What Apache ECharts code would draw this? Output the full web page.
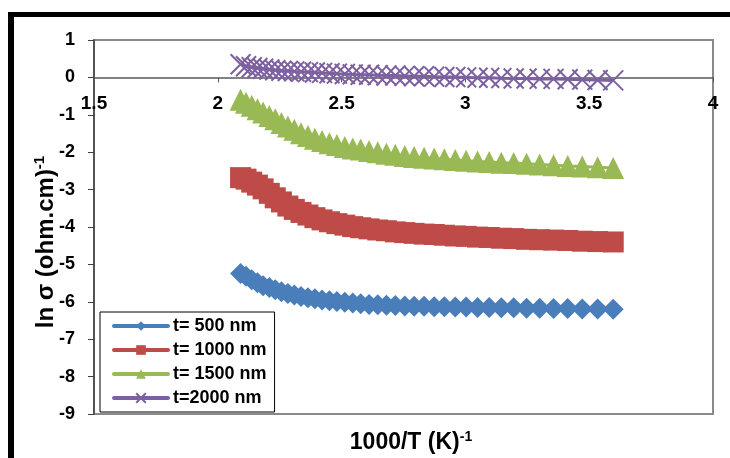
<!DOCTYPE html>
<html>
<head>
<meta charset="utf-8">
<script src="https://cdn.jsdelivr.net/npm/echarts@6/dist/echarts.min.js"></script>
<style>
  html, body { margin: 0; padding: 0; background: #fff; }
  #chart { width: 730px; height: 458px; }
</style>
</head>
<body>
<div id="chart"></div>
<script>
// 1000/T values (one marker each)
const invT = [2.092, 2.114, 2.137, 2.160, 2.183, 2.208, 2.232, 2.257, 2.283, 2.309,
              2.336, 2.364, 2.392, 2.421, 2.451, 2.481, 2.513, 2.545, 2.577, 2.611,
              2.646, 2.681, 2.717, 2.755, 2.793, 2.833, 2.874, 2.915, 2.959, 3.003,
              3.049, 3.096, 3.145, 3.195, 3.247, 3.300, 3.356, 3.413, 3.472, 3.534, 3.597];

// ln sigma for each film thickness
const t500 = [-5.24, -5.32, -5.41, -5.49, -5.57, -5.62, -5.68, -5.73, -5.78, -5.82,
              -5.86, -5.89, -5.92, -5.95, -5.97, -5.99, -6.01, -6.03, -6.05, -6.07,
              -6.08, -6.09, -6.10, -6.11, -6.12, -6.12, -6.13, -6.13, -6.14, -6.14,
              -6.15, -6.15, -6.16, -6.16, -6.17, -6.17, -6.18, -6.18, -6.19, -6.19, -6.20];
const t1000 = [-2.68, -2.72, -2.80, -2.88, -2.98, -3.10, -3.22, -3.33, -3.44, -3.53,
               -3.61, -3.68, -3.75, -3.81, -3.86, -3.91, -3.95, -3.99, -4.02, -4.05,
               -4.08, -4.10, -4.13, -4.15, -4.17, -4.19, -4.20, -4.22, -4.24, -4.25,
               -4.27, -4.28, -4.30, -4.31, -4.33, -4.34, -4.35, -4.36, -4.38, -4.39, -4.40];
const t1500 = [-0.60, -0.68, -0.76, -0.85, -0.94, -1.03, -1.12, -1.22, -1.31, -1.40,
               -1.49, -1.57, -1.64, -1.70, -1.76, -1.81, -1.86, -1.90, -1.93, -1.97,
               -2.00, -2.04, -2.07, -2.10, -2.13, -2.15, -2.17, -2.19, -2.21, -2.23,
               -2.25, -2.26, -2.28, -2.29, -2.31, -2.33, -2.35, -2.37, -2.38, -2.40, -2.42];
const t2000 = [0.35, 0.30, 0.27, 0.25, 0.23, 0.21, 0.19, 0.18, 0.17, 0.16,
               0.15, 0.14, 0.13, 0.12, 0.11, 0.10, 0.09, 0.08, 0.07, 0.07,
               0.06, 0.05, 0.05, 0.04, 0.03, 0.03, 0.02, 0.01, 0.01, 0.00,
               -0.01, -0.01, -0.02, -0.03, -0.03, -0.04, -0.04, -0.05, -0.06, -0.07, -0.08];

const seriesNames = ['t= 500 nm', 't= 1000 nm', 't= 1500 nm', 't=2000 nm'];
const seriesColors = ['#4A7EBB', '#BE4B48', '#98B954', '#7D60A0'];

const FONT = '"Liberation Sans", Arial, sans-serif';

const chart = echarts.init(document.getElementById('chart'));

function pairs(ys) {
  return invT.map((x, i) => [x, ys[i]]);
}

function lineSeries(idx, ys, symbol, size, extraItem) {
  return {
    name: seriesNames[idx],
    type: 'line',
    data: pairs(ys),
    symbol: symbol,
    symbolSize: size,
    showSymbol: true,
    showAllSymbol: true,
    lineStyle: { color: seriesColors[idx], width: 3 },
    itemStyle: Object.assign({ color: seriesColors[idx] }, extraItem || {}),
    emphasis: { disabled: true }
  };
}

// plot box: 374px tall for 10 units, x axis sits at y = 0 (one unit below the top)
const unitPx = 374 / 10;

const option = {
  animation: false,
  backgroundColor: '#ffffff',
  grid: {
    left: 94, right: 17, top: 40, bottom: 44,
    show: true,
    borderColor: '#8a8a8a',
    borderWidth: 2,
    outerBoundsMode: 'none'
  },
  legend: {
    orient: 'vertical',
    left: 100,
    top: 312,
    width: 189,
    padding: [5, 8, 5, 12],
    itemWidth: 54,
    itemHeight: 12,
    itemGap: 6,
    backgroundColor: '#ffffff',
    borderColor: '#000000',
    borderWidth: 1,
    lineStyle: { width: 4, cap: 'round' },
    textStyle: { fontFamily: FONT, fontWeight: 'bold', fontSize: 18, color: '#000' },
    data: seriesNames
  },
  xAxis: {
    type: 'value',
    position: 'top',
    offset: -unitPx,
    min: 1.5, max: 4, interval: 0.5,
    axisLine: { onZero: false, lineStyle: { color: '#595959', width: 1.5 } },
    axisTick: { show: true, inside: true, length: 5, lineStyle: { color: '#595959' } },
    axisLabel: {
      inside: true,
      margin: 17,
      fontFamily: FONT, fontWeight: 'bold', fontSize: 19, color: '#000',
      showMinLabel: true, showMaxLabel: true
    },
    splitLine: { show: false }
  },
  yAxis: {
    type: 'value',
    min: -9, max: 1, interval: 1,
    axisLine: { show: true, onZero: false, lineStyle: { color: '#404040', width: 1.5 } },
    axisTick: { show: true, length: 6, lineStyle: { color: '#404040' } },
    axisLabel: {
      margin: 19,
      fontFamily: FONT, fontWeight: 'bold', fontSize: 18, color: '#000'
    },
    splitLine: { show: false }
  },
  graphic: [
    { type: 'rect', shape: { x: 8, y: 12, width: 6, height: 446 }, style: { fill: '#000' }, silent: true },
    { type: 'rect', shape: { x: 8, y: 12, width: 722, height: 5 }, style: { fill: '#000' }, silent: true },
    {
      type: 'text', x: 411, y: 443, silent: true,
      style: {
        text: '{a|1000/T (K)}{b|-1}',
        align: 'center', verticalAlign: 'middle',
        rich: {
          a: { fontFamily: FONT, fontWeight: 'bold', fontSize: 23, lineHeight: 26, fill: '#000' },
          b: { fontFamily: FONT, fontWeight: 'bold', fontSize: 14, lineHeight: 14, verticalAlign: 'top', fill: '#000' }
        }
      }
    },
    {
      type: 'text', x: 46, y: 242, rotation: Math.PI / 2, silent: true,
      style: {
        text: '{a|ln σ (ohm.cm)}{b|-1}',
        align: 'center', verticalAlign: 'middle',
        rich: {
          a: { fontFamily: FONT, fontWeight: 'bold', fontSize: 24, lineHeight: 27, fill: '#000' },
          b: { fontFamily: FONT, fontWeight: 'bold', fontSize: 15, lineHeight: 15, verticalAlign: 'top', fill: '#000' }
        }
      }
    }
  ],
  series: [
    lineSeries(0, t500, 'diamond', 21),
    lineSeries(1, t1000, 'rect', 21),
    lineSeries(2, t1500, 'triangle', 22),
    lineSeries(3, t2000, 'path://M0,0L20,20M20,0L0,20', 20,
      { borderColor: seriesColors[3], borderWidth: 2 })
  ]
};

chart.setOption(option);
</script>
</body>
</html>
